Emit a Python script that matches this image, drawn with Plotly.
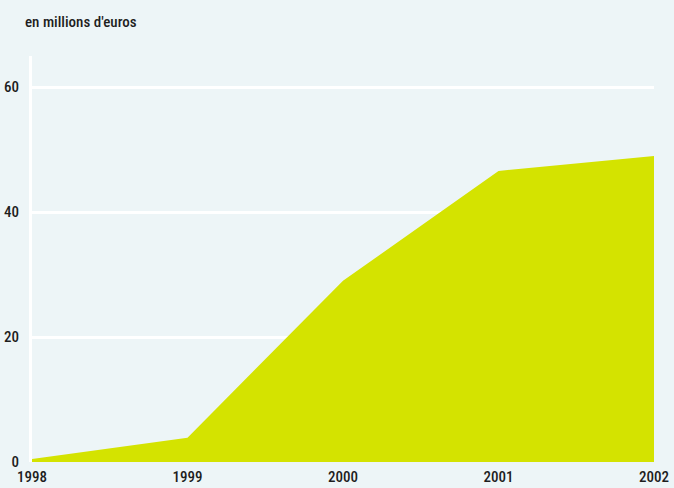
import plotly.graph_objects as go

years = [1998, 1999, 2000, 2001, 2002]
values = [0.5, 3.9, 29.0, 46.6, 49.0]
y_ticks = [0, 20, 40, 60]
x_labels = ["1998", "1999", "2000", "2001", "2002"]

BG = "#EDF5F7"
FILL = "#D4E300"
FONT = "Roboto Condensed, DejaVu Sans Condensed, Roboto, sans-serif"
TXT = "#1E1E1E"

fig = go.Figure()
fig.add_trace(go.Scatter(
    x=years, y=values, mode="lines", fill="tozeroy",
    line=dict(color=FILL, width=0), fillcolor=FILL, hoverinfo="skip",
))

fig.update_layout(
    width=674, height=488,
    margin=dict(l=32, r=20, t=56, b=26),
    paper_bgcolor=BG, plot_bgcolor=BG,
    showlegend=False,
    font=dict(family=FONT, size=15, color=TXT, weight=500),
    xaxis=dict(
        range=[1998, 2002], tickvals=years, ticktext=x_labels,
        showgrid=False, zeroline=False, showline=False, automargin=False,
        ticks="", ticklabelstandoff=4,
        tickfont=dict(family=FONT, size=15, color=TXT, weight=500),
    ),
    yaxis=dict(
        range=[0, 65], tickvals=y_ticks, showgrid=True, gridcolor="white",
        gridwidth=2.5, zeroline=False, showline=True, linecolor="white",
        linewidth=3, ticks="", ticklabelstandoff=7, automargin=False,
        tickfont=dict(family=FONT, size=15, color=TXT, weight=500),
        layer="below traces",
    ),
    annotations=[dict(
        text="en millions d'euros", xref="paper", yref="paper",
        x=-0.0145, y=1.0, xanchor="left", yanchor="middle", yshift=34,
        showarrow=False, font=dict(family=FONT, size=15, color=TXT, weight=500),
    )],
)

fig.write_html("out.html")
